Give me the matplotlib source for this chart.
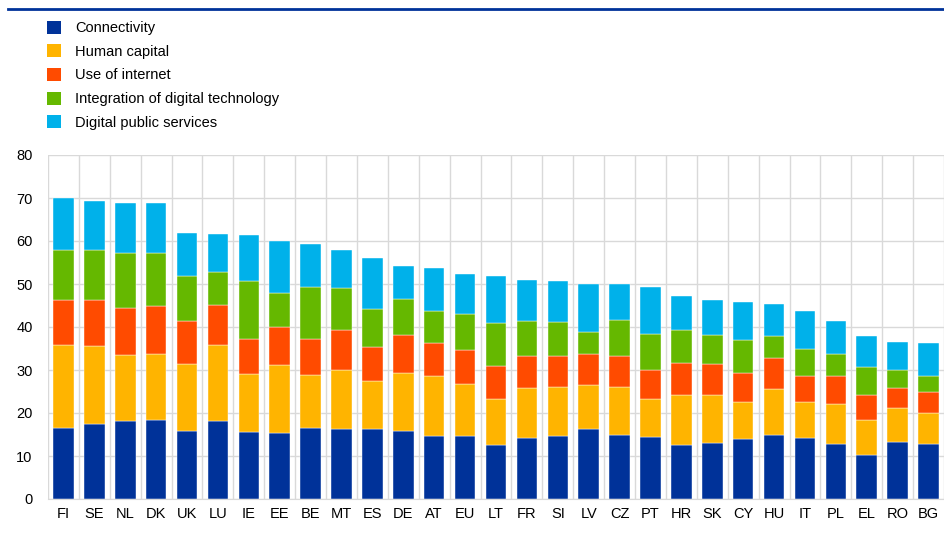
import matplotlib

matplotlib.use("Agg")
import matplotlib.pyplot as plt
import numpy as np
from matplotlib.lines import Line2D
from matplotlib.patches import Patch

plt.rcParams["font.family"] = ["Liberation Sans", "DejaVu Sans"]

countries = ["FI", "SE", "NL", "DK", "UK", "LU", "IE", "EE", "BE", "MT", "ES", "DE",
             "AT", "EU", "LT", "FR", "SI", "LV", "CZ", "PT", "HR", "SK", "CY", "HU",
             "IT", "PL", "EL", "RO", "BG"]

top_connectivity = [16.5, 17.5, 18.1, 18.4, 15.8, 18.2, 15.6, 15.4, 16.5, 16.3, 16.3, 15.7,
                    14.6, 14.7, 12.6, 14.1, 14.6, 16.3, 14.8, 14.5, 12.5, 13.1, 13.9, 14.9,
                    14.3, 12.9, 10.2, 13.2, 12.8]
top_human = [35.9, 35.5, 33.5, 33.7, 31.3, 35.8, 29.0, 31.1, 28.9, 30.1, 27.4, 29.4,
             28.5, 26.8, 23.2, 25.9, 26.1, 26.4, 26.0, 23.2, 24.2, 24.1, 22.5, 25.6,
             22.5, 22.2, 18.4, 21.1, 19.9]
top_internet = [46.3, 46.3, 44.5, 44.8, 41.4, 45.2, 37.1, 40.1, 37.1, 39.3, 35.4, 38.2,
                36.2, 34.7, 31.0, 33.2, 33.2, 33.8, 33.2, 29.9, 31.6, 31.3, 29.4, 32.8,
                28.6, 28.7, 24.3, 25.8, 24.9]
top_integration = [58.0, 57.8, 57.1, 57.1, 51.8, 52.9, 50.7, 48.0, 49.4, 49.0, 44.2, 46.6,
                   43.8, 43.0, 41.0, 41.3, 41.2, 38.9, 41.7, 38.4, 39.3, 38.2, 37.0, 37.8,
                   34.9, 33.8, 30.8, 30.1, 28.5]
top_public = [69.9, 69.4, 68.9, 68.8, 61.9, 61.7, 61.3, 60.0, 59.3, 58.0, 56.1, 54.3,
              53.8, 52.4, 51.9, 51.0, 50.8, 49.9, 49.9, 49.2, 47.2, 46.2, 45.7, 45.3,
              43.8, 41.5, 37.9, 36.4, 36.2]

labels = ["Connectivity", "Human capital", "Use of internet",
          "Integration of digital technology", "Digital public services"]
colors = ["#003299", "#FFB400", "#FF4B00", "#65B800", "#00B1EA"]

tops = np.array([top_connectivity, top_human, top_internet, top_integration, top_public])
bottoms = np.vstack([np.zeros(len(countries)), tops[:-1]])
sizes = tops - bottoms

fig = plt.figure(figsize=(9.44, 5.38), dpi=100)
ax = fig.add_axes([48 / 944, 39 / 538, 896 / 944, 344 / 538])

x = np.arange(len(countries))
for size, bottom, color, label in zip(sizes, bottoms, colors, labels):
    ax.bar(x, size, bottom=bottom, width=0.665, color=color, label=label, zorder=2,
           edgecolor="white", linewidth=0.3)

ax.set_ylim(0, 80)
ax.set_xlim(-0.5, 28.33)
ax.set_yticks(range(0, 81, 10))
ax.set_xticks(x, countries)
ax.set_xticks(np.arange(-0.5, 29, 1), minor=True)
ax.tick_params(axis="x", which="both", length=0, pad=6, labelsize=10.5)
ax.tick_params(axis="y", length=0, pad=11, labelsize=10.5)
ax.grid(True, axis="y", color="#d9d9d9", linewidth=1, zorder=0)
ax.grid(True, axis="x", which="minor", color="#d9d9d9", linewidth=1, zorder=0)
for side in ["top", "right", "left"]:
    ax.spines[side].set_visible(False)
ax.spines["bottom"].set_color("#d9d9d9")

# thin rule across the top of the panel
fig.add_artist(Line2D([8 / 944, 1.0], [1 - 9 / 538, 1 - 9 / 538], color="#003299",
                      linewidth=2, transform=fig.transFigure))

handles = [Patch(facecolor=c, edgecolor="none") for c in colors]
fig.legend(handles, labels, loc="upper left", bbox_to_anchor=(41 / 944, 1 - 15 / 538),
           frameon=False, fontsize=10.5, handlelength=1.0, handleheight=1.0,
           handletextpad=0.95, labelspacing=0.62, borderaxespad=0)

fig.savefig("out.png", dpi=100)
